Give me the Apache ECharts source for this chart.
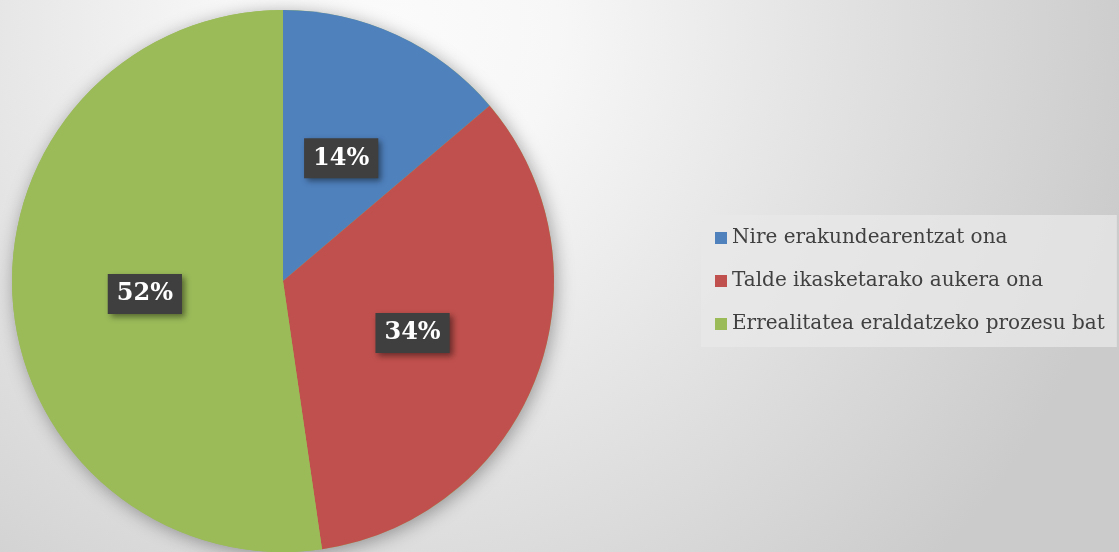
<!DOCTYPE html>
<html>
<head>
<meta charset="utf-8">
<script src="https://cdn.jsdelivr.net/npm/echarts@6/dist/echarts.min.js"></script>
<style>
html, body { margin: 0; padding: 0; }
#chart { width: 1119px; height: 552px; }
</style>
</head>
<body>
<div id="chart"></div>
<script>
var categories = ['Nire erakundearentzat ona', 'Talde ikasketarako aukera ona', 'Errealitatea eraldatzeko prozesu bat'];
var values = [13.8, 33.9, 52.3];
var colors = ['#4F81BD', '#C0504D', '#9BBB59'];

var myChart = echarts.init(document.getElementById('chart'));

var pieData = [];
for (var i = 0; i < categories.length; i++) {
    pieData.push({ name: categories[i], value: values[i] });
}

var option = {
    // fondo gris con centro claro arriba
    backgroundColor: {
        type: 'radial', x: 390, y: 30, r: 760, global: true,
        colorStops: [
            { offset: 0, color: '#fbfbfb' },
            { offset: 0.22, color: '#f7f7f7' },
            { offset: 0.52, color: '#e6e6e6' },
            { offset: 0.86, color: '#d3d3d3' },
            { offset: 1, color: '#cbcbcb' }
        ]
    },
    color: colors,
    legend: {
        orient: 'vertical',
        left: 701,
        top: 215,
        itemWidth: 12,
        itemHeight: 12,
        itemGap: 23,
        padding: [13, 12, 13, 14],
        backgroundColor: 'rgba(232,232,232,0.75)',
        icon: 'rect',
        textStyle: {
            fontFamily: 'DejaVu Serif',
            fontSize: 20,
            color: '#404040'
        },
        data: categories
    },
    series: [{
        // sombra del círculo
        type: 'pie',
        center: [283, 281],
        radius: 271,
        silent: true,
        label: { show: false },
        labelLine: { show: false },
        itemStyle: {
            color: '#9BBB59',
            shadowColor: 'rgba(0,0,0,0.35)',
            shadowBlur: 18,
            shadowOffsetX: 2,
            shadowOffsetY: 3
        },
        data: [{ name: 'sombra', value: 1 }]
    }, {
        type: 'pie',
        center: [283, 281],
        radius: 271,
        startAngle: 90,
        clockwise: true,
        percentPrecision: 0,
        silent: true,
        label: {
            show: true,
            position: 'inside',
            offset: [0, 3],
            formatter: '{d}%',
            fontFamily: 'DejaVu Serif',
            fontWeight: 'bold',
            fontSize: 24,
            color: '#ffffff',
            backgroundColor: '#3f3f3f',
            padding: [8, 9, 8, 9],
            shadowColor: 'rgba(0,0,0,0.45)',
            shadowBlur: 6,
            shadowOffsetX: 3,
            shadowOffsetY: 3
        },
        labelLine: { show: false },
        data: pieData
    }]
};

myChart.setOption(option);
</script>
</body>
</html>
